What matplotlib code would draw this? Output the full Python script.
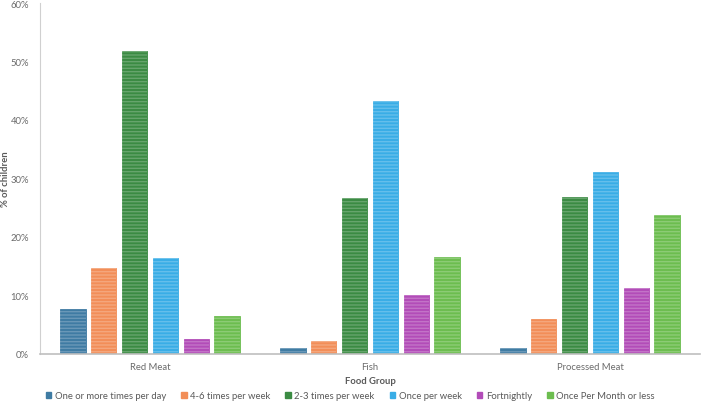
import numpy as np
import matplotlib.pyplot as plt
from matplotlib.ticker import PercentFormatter

plt.rcParams['font.family'] = ['Lato', 'DejaVu Sans']
plt.rcParams['hatch.linewidth'] = 1.0

groups = ['Red Meat', 'Fish', 'Processed Meat']
series = ['One or more times per day', '4-6 times per week', '2-3 times per week',
          'Once per week', 'Fortnightly', 'Once Per Month or less']
colors = ['#3f7ba3', '#f28e58', '#3b8b43', '#39ade6', '#b24cb8', '#6cbd4f']

one_or_more = [7.7, 1.0, 1.1]
four_six = [14.7, 2.3, 5.9]
two_three = [51.8, 26.6, 26.8]
once_week = [16.4, 43.3, 31.1]
fortnightly = [2.6, 10.1, 11.2]
once_month = [6.5, 16.5, 23.7]
values = [one_or_more, four_six, two_three, once_week, fortnightly, once_month]

fs = 6.8
fig = plt.figure(figsize=(7.02, 4.06), dpi=100)
ax = fig.add_axes([40/702, 51/406, 660/702, 351/406])

x = np.arange(len(groups))
step = 0.14
width = 0.114
for i, (name, vals, c) in enumerate(zip(series, values, colors)):
    pos = x + (i - 2.5) * step
    ax.bar(pos, vals, width, color=c, edgecolor=c, lw=0.6, label=name, zorder=2)
    # faint horizontal stripes like the original
    ax.bar(pos, vals, width, facecolor='none', edgecolor=(1, 1, 1, 0.22),
           hatch='-----', lw=0, zorder=3)

ax.set_ylim(0, 60)
ax.set_xlim(-0.5, 2.5)
ax.yaxis.set_major_formatter(PercentFormatter(decimals=0))
ax.set_yticks(np.arange(0, 61, 10))
ax.set_xticks(x)
ax.set_xticklabels(groups)
ax.tick_params(axis='both', length=0, labelsize=fs, colors='#6b6b6b')
ax.tick_params(axis='x', pad=6)
ax.tick_params(axis='y', pad=8)
for s in ['top', 'right']:
    ax.spines[s].set_visible(False)
ax.spines['left'].set_color('#d0d0d0')
ax.spines['bottom'].set_color('#bfbfbf')
ax.spines['bottom'].set_linewidth(1.2)

ax.set_ylabel('% of children', fontsize=fs, fontweight='bold', color='#595959')
ax.yaxis.set_label_coords(-30/660, 0.5)
ax.set_xlabel('Food Group', fontsize=fs, fontweight='bold', color='#595959')
ax.xaxis.set_label_coords(0.5, -22/351)

handles = [plt.Rectangle((0, 0), 1, 1, color=c) for c in colors]
fig.legend(handles, series, loc='center', bbox_to_anchor=(350/702, 9/406), ncol=6,
           frameon=False, fontsize=fs, handlelength=0.6, handleheight=0.6,
           handletextpad=0.35, columnspacing=1.6, labelcolor='#595959')

fig.savefig('out.png', dpi=100)
